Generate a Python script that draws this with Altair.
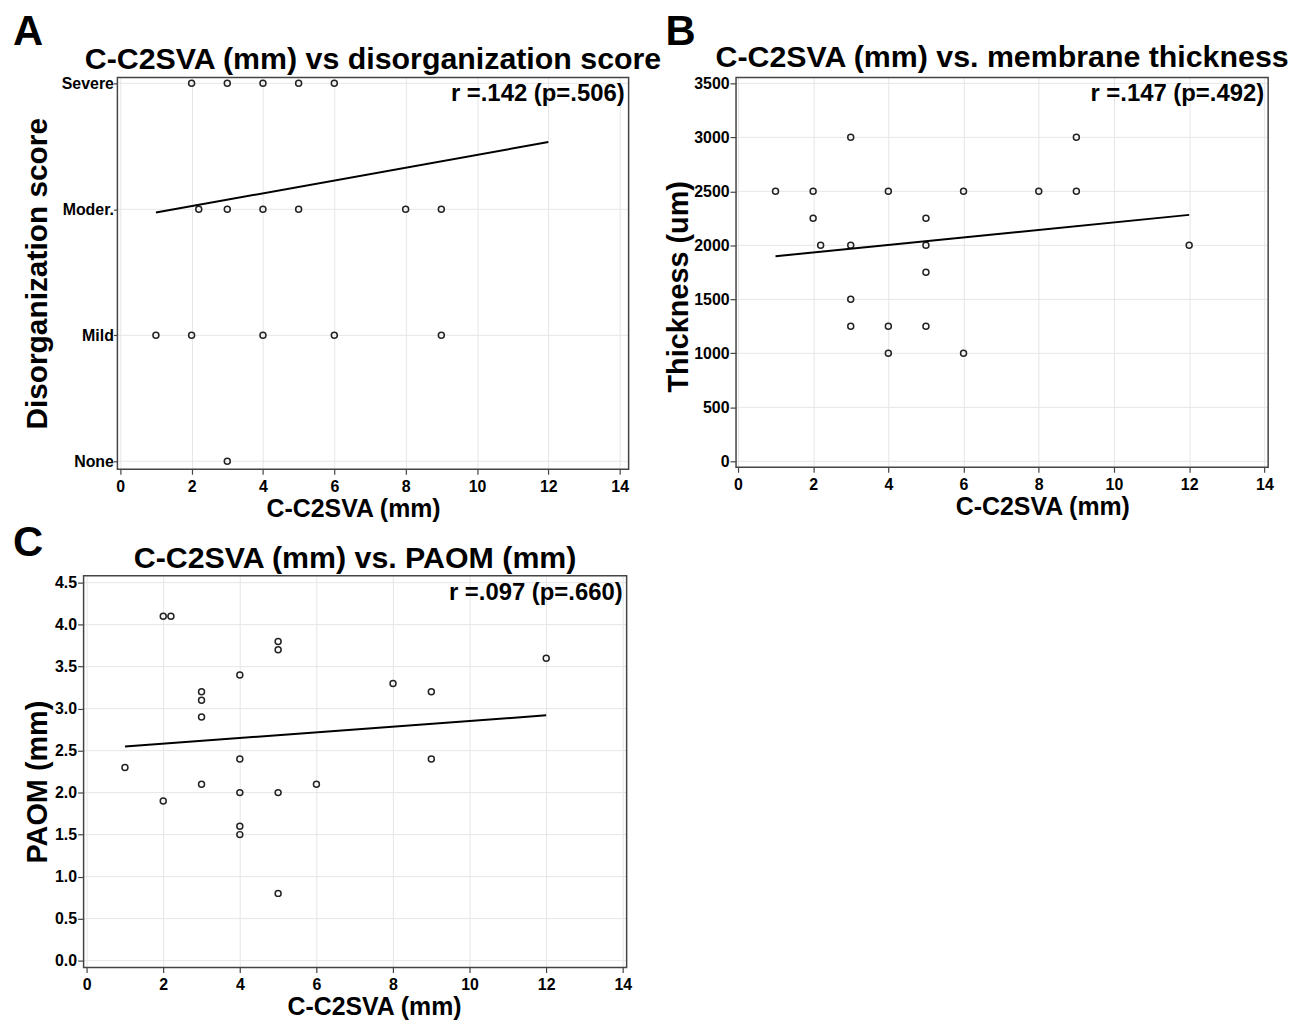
import altair as alt
import pandas as pd

FONT = "Liberation Sans"

# ---------------- data ----------------
panel_letters = ["A", "B", "C"]
panel_titles = [
    "C-C2SVA (mm) vs disorganization score",
    "C-C2SVA (mm) vs. membrane thickness",
    "C-C2SVA (mm) vs. PAOM (mm)",
]
r_texts = ["r =.142 (p=.506)", "r =.147 (p=.492)", "r =.097 (p=.660)"]
x_title = "C-C2SVA (mm)"
y_titles = ["Disorganization score", "Thickness (um)", "PAOM (mm)"]
x_ticks = [0, 2, 4, 6, 8, 10, 12, 14]

# Panel A: disorganization score (0=None, 1=Mild, 2=Moder., 3=Severe)
score_labels = ["None", "Mild", "Moder.", "Severe"]
score_ticks = [0, 1, 2, 3]
a_x = [2, 3, 4, 5, 6, 2.2, 3, 4, 5, 8, 9, 1, 2, 4, 6, 9, 3]
a_y = [3, 3, 3, 3, 3, 2, 2, 2, 2, 2, 2, 1, 1, 1, 1, 1, 0]
a_fit_x = [1, 12]
a_fit_y = [1.974, 2.534]

# Panel B: membrane thickness (um)
b_x = [1, 2, 2, 2.2, 3, 3, 3, 3, 4, 4, 4, 5, 5, 5, 5, 6, 6, 8, 9, 9, 12]
b_y = [2500, 2500, 2250, 2000, 3000, 2000, 1500, 1250, 2500, 1250, 1000,
       2250, 2000, 1750, 1250, 2500, 1000, 2500, 3000, 2500, 2000]
b_fit_x = [1, 12]
b_fit_y = [1899, 2282]
b_ticks = [0, 500, 1000, 1500, 2000, 2500, 3000, 3500]

# Panel C: PAOM (mm)
c_x = [1, 2, 2.2, 2, 3, 3, 3, 3, 4, 4, 4, 4, 4, 5, 5, 5, 5, 6, 8, 9, 9, 12]
c_y = [2.3, 4.1, 4.1, 1.9, 3.2, 3.1, 2.9, 2.1, 3.4, 2.4, 2.0, 1.6, 1.5,
       3.8, 3.7, 2.0, 0.8, 2.1, 3.3, 3.2, 2.4, 3.6]
c_fit_x = [1, 12]
c_fit_y = [2.55, 2.92]
c_ticks = [0.0, 0.5, 1.0, 1.5, 2.0, 2.5, 3.0, 3.5, 4.0, 4.5]

FRAME = "#444444"
GRID = "#e6e6e6"


def text_layer(txt, x, y, size, align):
    return alt.Chart(pd.DataFrame({"t": [txt]})).mark_text(
        align=align, baseline="alphabetic", fontSize=size, fontWeight="bold",
        font=FONT, color="black"
    ).encode(text="t:N", x=alt.value(x), y=alt.value(y))


def panel(letter, title, rtext, xs, ys, fx, fy, yticks, width, height,
          xdom, ydom, yaxis_kw, title_y, xtitle_x, letter_x, letter_y,
          ext=0):
    # ext: blank space (px) kept on the left inside the view, so the
    # panel's origin can line up with the panel below it.
    pts = pd.DataFrame({"x": xs, "y": ys})
    fit = pd.DataFrame({"x": fx, "y": fy})
    grid_df = pd.DataFrame({"v": yticks})
    span = xdom[1] - xdom[0]
    lo = xdom[0] - ext * span / width
    xscale = alt.Scale(domain=[lo, xdom[1]], nice=False, zero=False)
    yscale = alt.Scale(domain=ydom, nice=False, zero=False)
    xaxis = alt.Axis(values=x_ticks, title=x_title, titleFontSize=25,
                     labelFontSize=16, tickSize=5, labelPadding=4,
                     titlePadding=2, titleX=xtitle_x + ext, format="d")
    yaxis = alt.Axis(values=yticks, grid=False, offset=-ext, labelFontSize=16,
                     titleBaseline="middle", **yaxis_kw)
    grid = alt.Chart(grid_df).mark_rule(color=GRID, strokeWidth=1).encode(
        y=alt.Y("v:Q", scale=yscale),
        x=alt.value(ext), x2=alt.value(ext + width),
    )
    frame = alt.Chart(pd.DataFrame({"v": [0]})).mark_rect(
        fillOpacity=0, stroke=FRAME, strokeWidth=1.5
    ).encode(
        x=alt.value(ext), x2=alt.value(ext + width),
        y=alt.value(0), y2=alt.value(height),
    )
    points = alt.Chart(pts).mark_point(
        shape="circle", filled=False, size=36, strokeWidth=1.5,
        color="#222222", opacity=1
    ).encode(
        x=alt.X("x:Q", scale=xscale, axis=xaxis),
        y=alt.Y("y:Q", scale=yscale, axis=yaxis),
    )
    line = alt.Chart(fit).mark_line(color="black", strokeWidth=2).encode(
        x=alt.X("x:Q", scale=xscale),
        y=alt.Y("y:Q", scale=yscale),
    )
    rlab = text_layer(rtext, ext + width - 4, 24, 24, "right")
    ttl = text_layer(title, ext + width / 2, title_y, 30.5, "center")
    let = text_layer(letter, ext + letter_x, letter_y, 42, "left")
    return alt.layer(grid, frame, points, line, rlab, ttl, let).properties(
        width=width + ext, height=height
    )


label_expr = " : ".join(
    f"datum.value == {i} ? '{lab}'" for i, lab in enumerate(score_labels)
) + " : ''"

ya = dict(labelExpr=label_expr, title=y_titles[0], titleFontSize=30,
          tickSize=4, labelPadding=0, titleX=-80)
yb = dict(format="d", title=y_titles[1], titleFontSize=29, tickSize=6,
          labelPadding=1, titleX=-58, titleY=210)
yc = dict(format=".1f", title=y_titles[2], titleFontSize=29, tickSize=6,
          labelPadding=1, titleX=-46, titleY=207)

A = panel(panel_letters[0], panel_titles[0], r_texts[0],
          a_x, a_y, a_fit_x, a_fit_y, score_ticks, 514, 394, [-0.08, 14.25],
          [-0.063, 3.047], ya, -8, 237, -105, -33, ext=34)
B = panel(panel_letters[1], panel_titles[1], r_texts[1],
          b_x, b_y, b_fit_x, b_fit_y, b_ticks, 535, 392, [-0.05, 14.1],
          [-55, 3555], yb, -10, 308, -71, -33)
C = panel(panel_letters[2], panel_titles[2], r_texts[2],
          c_x, c_y, c_fit_x, c_fit_y, c_ticks, 546, 394, [-0.08, 14.1],
          [-0.083, 4.583], yc, -8, 292, -71, -20)

chart = alt.concat(
    A, B, C, columns=2, align="none", spacing={"row": 1, "column": 2}
).properties(
    padding={"left": 5, "top": 0, "right": 5, "bottom": 5}
).configure_view(
    strokeWidth=0
).configure_axis(
    labelFont=FONT, labelFontWeight="bold", labelColor="black",
    titleFont=FONT, titleFontWeight="bold", titleColor="black",
    gridColor=GRID, gridWidth=1, tickColor=FRAME, tickWidth=1.2,
    domain=False, labelAngle=0
).configure_axisX(grid=True)

chart.save("out.html", embed_options={"renderer": "svg", "actions": False})
